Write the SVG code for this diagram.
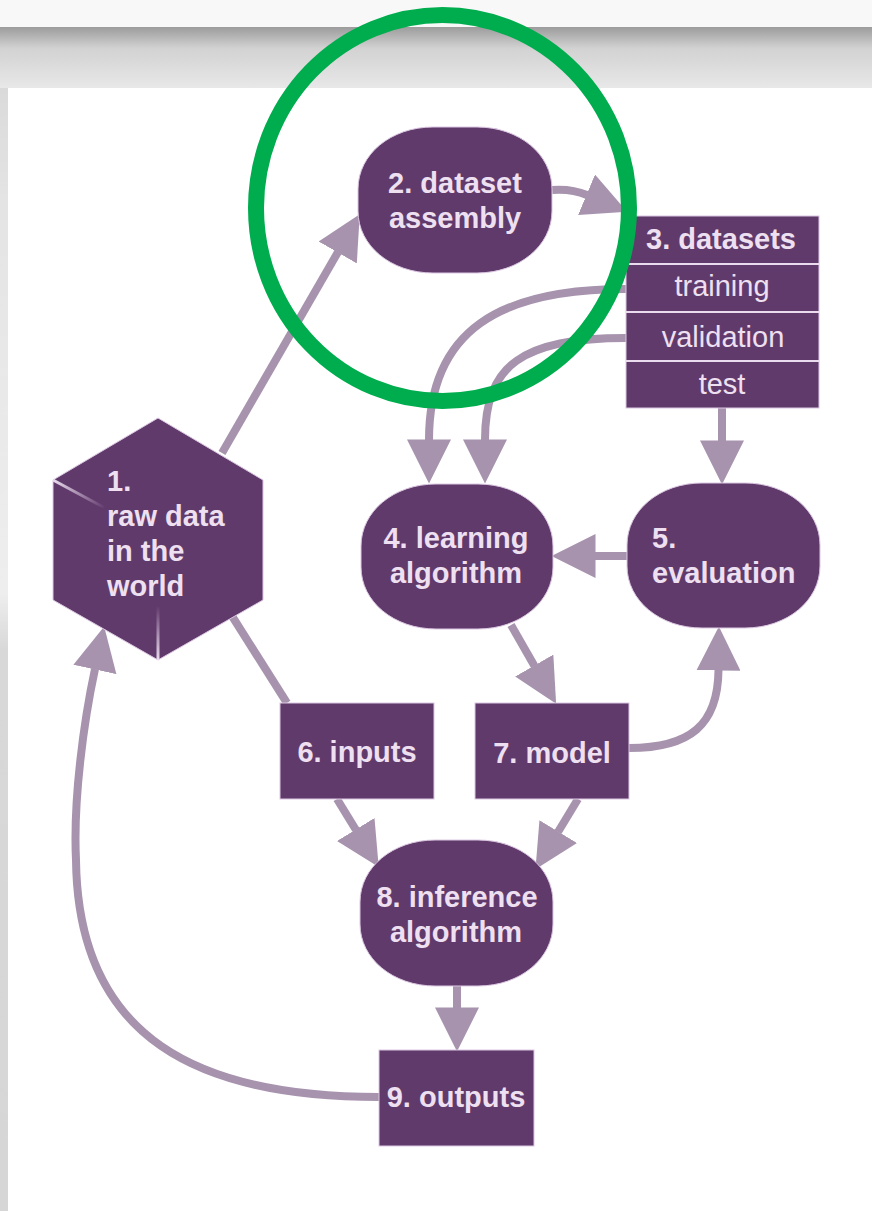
<svg xmlns="http://www.w3.org/2000/svg" width="872" height="1211" viewBox="0 0 872 1211">
<defs>
<style>
.n{fill:#613a6c;stroke:#dcc8e2;stroke-width:1}
.c{fill:none;stroke:#a793ae;stroke-width:8}
.t{font-family:"Liberation Sans",Arial,sans-serif;font-size:29px;font-weight:bold;fill:#eee0f1}
.r{font-family:"Liberation Sans",Arial,sans-serif;font-size:29px;fill:#eee0f1}
.m{text-anchor:middle}
</style>
<linearGradient id="topg" x1="0" y1="0" x2="0" y2="1">
<stop offset="0" stop-color="#9c9c9c"/>
<stop offset="0.35" stop-color="#d2d2d2"/>
<stop offset="1" stop-color="#e8e8e8"/>
</linearGradient>
<linearGradient id="strip" x1="0" y1="0" x2="0" y2="1">
<stop offset="0" stop-color="#dadada"/>
<stop offset="0.1" stop-color="#e4e4e4"/>
<stop offset="0.45" stop-color="#eeeeee"/>
<stop offset="0.5" stop-color="#d8d8d8"/>
<stop offset="1" stop-color="#d6d6d6"/>
</linearGradient>
<linearGradient id="hl1" gradientUnits="userSpaceOnUse" x1="53" y1="480" x2="105" y2="508">
<stop offset="0" stop-color="#eadcee"/>
<stop offset="1" stop-color="#eadcee" stop-opacity="0"/>
</linearGradient>
<linearGradient id="hl2" gradientUnits="userSpaceOnUse" x1="158" y1="660" x2="158" y2="606">
<stop offset="0" stop-color="#eadcee"/>
<stop offset="1" stop-color="#eadcee" stop-opacity="0"/>
</linearGradient>
<marker id="ah" markerUnits="userSpaceOnUse" markerWidth="44" markerHeight="44" viewBox="0 0 42 42" refX="0.5" refY="21" orient="auto">
<path d="M0,0 L42,21 L0,42 z" fill="#a793ae"/>
</marker>
</defs>

<g id="background">
<rect x="0" y="0" width="872" height="1211" fill="#ffffff"/>
<rect x="0" y="0" width="872" height="27" fill="#f8f8f8"/>
<rect x="0" y="27" width="872" height="61" fill="url(#topg)"/>
<rect x="0" y="88" width="8" height="1123" fill="url(#strip)"/>
</g>

<g id="connectors">
<path class="c" d="M222,453 L338,252" marker-end="url(#ah)"/>
<path class="c" d="M552,190 C565,189 575,190 587,195" marker-end="url(#ah)"/>
<path class="c" d="M626,289 C500,289 429,330 429,440" marker-end="url(#ah)"/>
<path class="c" d="M626,338 C522,338 485,365 485,440" marker-end="url(#ah)"/>
<path class="c" d="M722,408 L722,441" marker-end="url(#ah)"/>
<path class="c" d="M627,556 L595,556" marker-end="url(#ah)"/>
<path class="c" d="M511,625 L534.5,666" marker-end="url(#ah)"/>
<path class="c" d="M629,748 C690,748 718,725 718.5,670" marker-end="url(#ah)"/>
<path class="c" d="M220,597 L287,703"/>
<path class="c" d="M337,799 L356,830" marker-end="url(#ah)"/>
<path class="c" d="M578,799 L558,832" marker-end="url(#ah)"/>
<path class="c" d="M457,985 L457,1008" marker-end="url(#ah)"/>
<path class="c" d="M379,1097 C200,1097 78,1040 76,860 C73,800 84,720 95,669" marker-end="url(#ah)"/>
</g>

<g id="node1">
<polygon class="n" points="158,418 263,480 263,600 158,660 53,600 53,480"/>
<line x1="53" y1="480" x2="105" y2="508" stroke="url(#hl1)" stroke-width="3"/>
<line x1="158" y1="660" x2="158" y2="606" stroke="url(#hl2)" stroke-width="3"/>
<text class="t" x="107" y="491">1.</text>
<text class="t" x="107" y="526">raw data</text>
<text class="t" x="107" y="561">in the</text>
<text class="t" x="107" y="596">world</text>
</g>

<g id="node2">
<path class="n" d="M433,127 H477 C519,127 552,154.3 552,189 V211 C552,245.7 519,273 477,273 H433 C391,273 358,245.7 358,211 V189 C358,154.3 391,127 433,127 Z"/>
<text class="t m" x="455" y="193">2. dataset</text>
<text class="t m" x="455" y="228">assembly</text>
</g>

<g id="node3">
<rect class="n" x="626" y="216" width="193" height="192"/>
<g stroke="#eadbee" stroke-width="2">
<line x1="626" y1="264" x2="819" y2="264"/>
<line x1="626" y1="312" x2="819" y2="312"/>
<line x1="626" y1="361" x2="819" y2="361"/>
</g>
<text class="t m" x="721" y="249">3. datasets</text>
<text class="r m" x="722" y="296">training</text>
<text class="r m" x="723" y="347">validation</text>
<text class="r m" x="722" y="394">test</text>
</g>

<g id="node4">
<path class="n" d="M436,484 H478 C520,484 553,511.3 553,546 V567 C553,601.7 520,629 478,629 H436 C394,629 361,601.7 361,567 V546 C361,511.3 394,484 436,484 Z"/>
<text class="t m" x="456" y="548">4. learning</text>
<text class="t m" x="456" y="583">algorithm</text>
</g>

<g id="node5">
<path class="n" d="M702,483 H745 C787,483 820,510.3 820,545 V566 C820,600.7 787,628 745,628 H702 C660,628 627,600.7 627,566 V545 C627,510.3 660,483 702,483 Z"/>
<text class="t" x="652" y="548">5.</text>
<text class="t" x="652" y="583">evaluation</text>
</g>

<g id="node6">
<rect class="n" x="280" y="703" width="154" height="96"/>
<text class="t m" x="357" y="762">6. inputs</text>
</g>

<g id="node7">
<rect class="n" x="475" y="703" width="154" height="96"/>
<text class="t m" x="552" y="763">7. model</text>
</g>

<g id="node8">
<path class="n" d="M435,840 H478 C520,840 553,867.3 553,902 V924 C553,958.7 520,986 478,986 H435 C393,986 360,958.7 360,924 V902 C360,867.3 393,840 435,840 Z"/>
<text class="t m" x="457" y="907">8. inference</text>
<text class="t m" x="456" y="942">algorithm</text>
</g>

<g id="node9">
<rect class="n" x="379" y="1050" width="155" height="96"/>
<text class="t m" x="456" y="1107">9. outputs</text>
</g>

<g id="highlight">
<ellipse cx="442.5" cy="208" rx="186.5" ry="193" fill="none" stroke="#00ad4e" stroke-width="16"/>
</g>
</svg>
